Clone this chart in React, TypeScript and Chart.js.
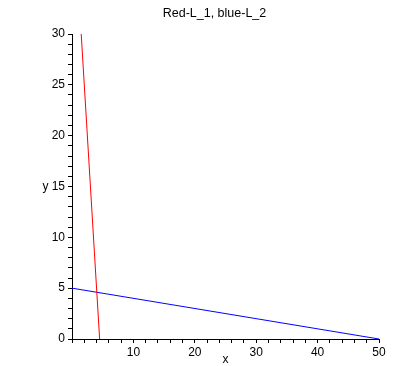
import React, { useEffect, useRef } from "react";
import { Chart, registerables } from "chart.js";

Chart.register(...registerables);

const titleText = "Red-L_1, blue-L_2";
const xLabel = "x";
const yLabel = "y";

const redX = [1.5, 4.5];
const redY = [30, 0];
const blueX = [0, 50];
const blueY = [5, 0];

const xMin = 0;
const xMax = 50;
const yMin = 0;
const yMax = 30;

const FONT = "'Liberation Sans', Arial, sans-serif";

const textPlugin = {
  id: "mapleText",
  afterDraw(chart: any) {
    const { ctx, chartArea } = chart;
    ctx.save();
    ctx.fillStyle = "#000";
    ctx.textBaseline = "alphabetic";
    ctx.textAlign = "center";
    ctx.font = `12.5px ${FONT}`;
    ctx.fillText(titleText, 214.5, 16.5);
    ctx.font = `12px ${FONT}`;
    ctx.fillText(xLabel, (chartArea.left + chartArea.right) / 2, 363);
    ctx.fillText(yLabel, 45.5, 190);
    ctx.restore();
  },
};

export default function App() {
  const ref = useRef<HTMLCanvasElement | null>(null);

  useEffect(() => {
    if (!ref.current) return;
    const red = redX.map((x, i) => ({ x, y: redY[i] }));
    const blue = blueX.map((x, i) => ({ x, y: blueY[i] }));
    const chart = new Chart(ref.current, {
      type: "scatter",
      data: {
        datasets: [
          {
            data: red,
            showLine: true,
            borderColor: "#ff0000",
            borderWidth: 1,
            pointRadius: 0,
            fill: false,
          },
          {
            data: blue,
            showLine: true,
            borderColor: "#0000ff",
            borderWidth: 1,
            pointRadius: 0,
            fill: false,
          },
        ],
      },
      options: {
        responsive: false,
        animation: false,
        layout: { padding: { top: 34, right: 40, bottom: 0, left: 0 } },
        plugins: {
          legend: { display: false },
          title: { display: false },
          tooltip: { enabled: false },
        },
        scales: {
          x: {
            type: "linear",
            min: xMin,
            max: xMax,
            ticks: {
              stepSize: 2,
              autoSkip: false,
              maxRotation: 0,
              color: "#000",
              padding: 2,
              font: { family: FONT, size: 12 },
              callback: (v: any) => (v % 10 === 0 && v !== 0 ? String(v) : ""),
            },
            grid: {
              drawOnChartArea: false,
              drawTicks: true,
              tickLength: 4,
              color: "#000",
            },
            border: { display: true, color: "#000", width: 1 },
            afterFit: (s: any) => {
              s.height = 27;
            },
          },
          y: {
            type: "linear",
            min: yMin,
            max: yMax,
            ticks: {
              stepSize: 1,
              autoSkip: false,
              color: "#000",
              padding: 3,
              font: { family: FONT, size: 12 },
              callback: (v: any) => (v % 5 === 0 ? String(v) : ""),
            },
            grid: {
              drawOnChartArea: false,
              drawTicks: true,
              tickLength: 4,
              color: "#000",
            },
            border: { display: true, color: "#000", width: 1 },
            afterFit: (s: any) => {
              s.width = 72;
            },
          },
        },
      },
      plugins: [textPlugin],
    });
    return () => chart.destroy();
  }, []);

  return (
    <div style={{ position: "absolute", left: 0, top: 0, width: 419, height: 366, background: "#fff" }}>
      <canvas ref={ref} width={419} height={366} style={{ width: 419, height: 366 }} />
    </div>
  );
}
